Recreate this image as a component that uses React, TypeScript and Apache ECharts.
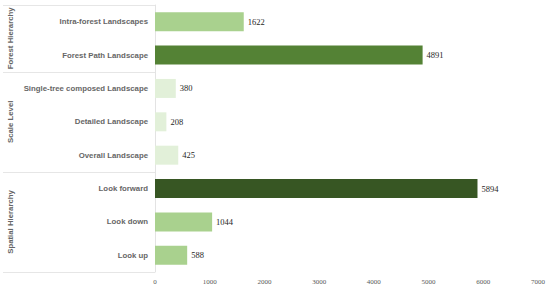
import React, { useEffect, useRef } from "react";
import * as echarts from "echarts";

const categories = [
  "Intra-forest Landscapes",
  "Forest Path Landscape",
  "Single-tree composed Landscape",
  "Detailed Landscape",
  "Overall Landscape",
  "Look forward",
  "Look down",
  "Look up",
];
const values = [1622, 4891, 380, 208, 425, 5894, 1044, 588];
const barColors = ["#A9D18E", "#548235", "#E2F0D9", "#E2F0D9", "#E2F0D9", "#375623", "#A9D18E", "#A9D18E"];
const groupNames = ["Forest Hierarchy", "Scale Level", "Spatial Hierarchy"];
const groupSizes = [2, 3, 3];
const xTicks = [0, 1000, 2000, 3000, 4000, 5000, 6000, 7000];

export default function App() {
  const ref = useRef<HTMLDivElement>(null);
  useEffect(() => {
    if (!ref.current) return;
    const chart = echarts.init(ref.current, null, { renderer: "svg" });
    chart.setOption({
      animation: false,
      grid: { left: 155, right: 12, top: 5, bottom: 18 },
      xAxis: {
        type: "value",
        min: xTicks[0],
        max: xTicks[xTicks.length - 1],
        interval: 1000,
        axisLine: { show: false },
        axisTick: { show: false },
        splitLine: { show: false },
        axisLabel: {
          fontFamily: "Liberation Serif, Times New Roman, serif",
          fontSize: 7,
          color: "#595959",
          margin: 6,
          formatter: (v: number) => String(v),
        },
      },
      yAxis: {
        type: "category",
        inverse: true,
        data: categories,
        axisLine: { show: true, lineStyle: { color: "#e3e3e3", width: 1 } },
        axisTick: { show: false },
        axisLabel: {
          fontFamily: "Liberation Sans, Arial, sans-serif",
          fontWeight: "bold",
          fontSize: 7.8,
          color: "#666666",
          margin: 7,
        },
      },
      series: [
        {
          type: "bar",
          barWidth: 19,
          data: values.map((v, i) => ({ value: v, itemStyle: { color: barColors[i] } })),
          label: {
            show: true,
            position: "right",
            distance: 4,
            fontFamily: "Liberation Serif, Times New Roman, serif",
            fontSize: 8.5,
            color: "#262626",
          },
        },
      ],
    });

    // group separators and labels, positioned from the category axis
    const gridLeft = 155;
    const y0 = chart.convertToPixel({ yAxisIndex: 0 }, 0) as number;
    const y1 = chart.convertToPixel({ yAxisIndex: 0 }, 1) as number;
    const step = y1 - y0;
    const edge = (idx: number) => y0 - step / 2 + idx * step;
    const graphics: any[] = [];
    let start = 0;
    const boundaries = [0];
    groupSizes.forEach((n) => {
      start += n;
      boundaries.push(start);
    });
    boundaries.forEach((b) => {
      const y = Math.round(edge(b)) + 0.5;
      graphics.push({
        type: "line",
        shape: { x1: 3, y1: y, x2: gridLeft, y2: y },
        style: { stroke: "#e6e6e6", lineWidth: 1 },
        silent: true,
      });
    });
    groupNames.forEach((name, gi) => {
      const cy = (edge(boundaries[gi]) + edge(boundaries[gi + 1])) / 2;
      graphics.push({
        type: "text",
        x: 10,
        y: cy,
        rotation: Math.PI / 2,
        style: {
          text: name,
          fontFamily: "Liberation Sans, Arial, sans-serif",
          fontWeight: "bold",
          fontSize: 7.8,
          fill: "#666666",
          align: "center",
          verticalAlign: "middle",
        },
        silent: true,
      });
    });
    chart.setOption({ graphic: graphics });
    return () => chart.dispose();
  }, []);
  return (
    <div
      ref={ref}
      style={{ position: "fixed", left: 0, top: 0, width: 550, height: 290, background: "#fff" }}
    />
  );
}
